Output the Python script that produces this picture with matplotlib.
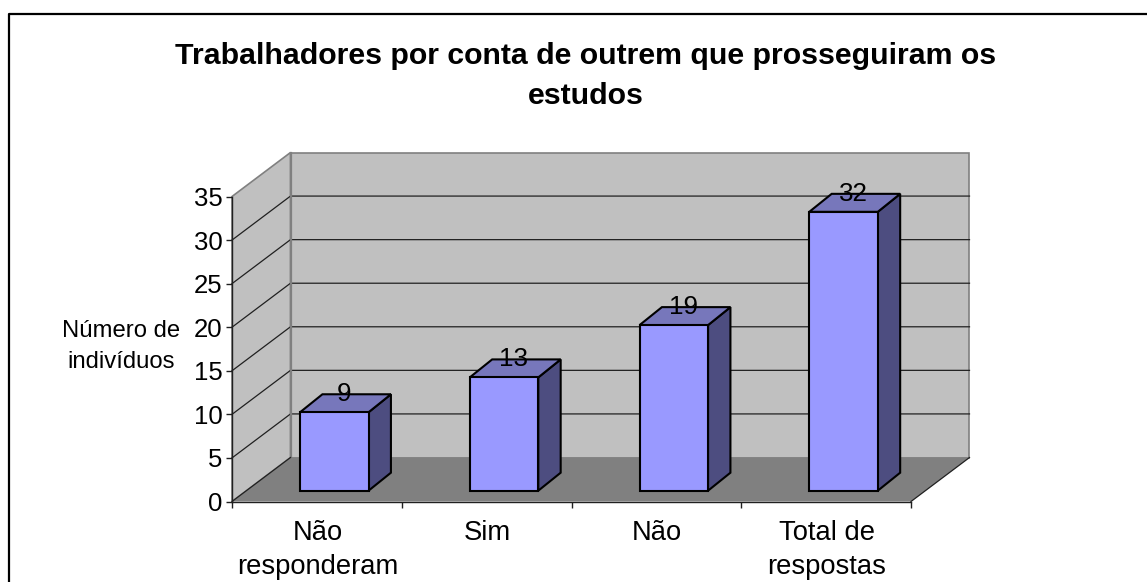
import matplotlib
matplotlib.use("Agg")
import matplotlib.pyplot as plt
from matplotlib.lines import Line2D
from matplotlib.patches import Polygon

plt.rcParams['font.family'] = ['Liberation Sans', 'DejaVu Sans']

categories = ['Não\nresponderam', 'Sim', 'Não', 'Total de\nrespostas']
values = [9, 13, 19, 32]
y_ticks = [0, 5, 10, 15, 20, 25, 30, 35]
title = 'Trabalhadores por conta de outrem que prosseguiram os\nestudos'
y_label = 'Número de\nindivíduos'

W, H = 1147, 582
LEFT, RIGHT, BOTTOM, TOP = 232, 911, 501.5, 196.5

fig = plt.figure(figsize=(W / 100, H / 100), dpi=100)
fig.patch.set_facecolor('white')

# outer frame of the chart, only left and top are inside the picture
fig.add_artist(Line2D([8.5 / W, 8.5 / W, 1], [0, 1 - 13.5 / H, 1 - 13.5 / H],
                      transform=fig.transFigure, color='black', lw=1.6))

ax = fig.add_axes([LEFT / W, 1 - BOTTOM / H, (RIGHT - LEFT) / W, (BOTTOM - TOP) / H])
ax.set_xlim(0, 4)
ax.set_ylim(0, 35)
ax.patch.set_visible(False)

# depth of the box and of a bar, in data units
px_x = 4 / (RIGHT - LEFT)
px_y = 35 / (BOTTOM - TOP)
DX, DY = 58.5 * px_x, 44 * px_y
BAR_DX, BAR_DY = 22.4 * px_x, 18 * px_y
SHIFT_X, SHIFT_Y = 17.4 * px_x, 10.8 * px_y
BAR_W = 68.5 * px_x


def poly(pts, fc, ec, lw, z):
    ax.add_patch(Polygon(pts, closed=True, fc=fc, ec=ec, lw=lw, zorder=z,
                         clip_on=False, joinstyle='miter'))


# walls and floor
poly([(0, 0), (DX, DY), (DX, 35 + DY), (0, 35)], '#c0c0c0', '#808080', 1.2, 1)
poly([(DX, DY), (4 + DX, DY), (4 + DX, 35 + DY), (DX, 35 + DY)], '#c0c0c0', '#808080', 1.2, 1)
poly([(0, 0), (4, 0), (4 + DX, DY), (DX, DY)], '#808080', 'none', 0, 2)

# grid lines on side and back wall
for t in y_ticks[1:-1]:
    ax.plot([0, DX, 4 + DX], [t, t + DY, t + DY], color='#202020', lw=0.9, zorder=3, clip_on=False)
ax.plot([DX, DX], [DY, 35 + DY], color='#808080', lw=1.6, zorder=3, clip_on=False)
ax.plot([0, DX], [0, DY], color='#202020', lw=0.9, zorder=3, clip_on=False)
ax.plot([4, 4 + DX], [0, DY], color='#202020', lw=0.9, zorder=3, clip_on=False)

# bars
for i, v in enumerate(values):
    x0 = i + 0.5 - BAR_W / 2 + SHIFT_X
    x1 = x0 + BAR_W
    y0 = SHIFT_Y
    y1 = v + SHIFT_Y
    poly([(x1, y0), (x1 + BAR_DX, y0 + BAR_DY), (x1 + BAR_DX, y1 + BAR_DY), (x1, y1)],
         '#4d4d80', 'black', 1.5, 5)
    poly([(x0, y1), (x1, y1), (x1 + BAR_DX, y1 + BAR_DY), (x0 + BAR_DX, y1 + BAR_DY)],
         '#7777bb', 'black', 1.5, 5)
    poly([(x0, y0), (x1, y0), (x1, y1), (x0, y1)], '#9999ff', 'black', 1.5, 6)
    ax.text((x0 + x1) / 2 + 9.5 * px_x, y1 + 18 * px_y, str(v), ha='center', va='center',
            fontsize=18.7, color='black', zorder=8)

for s in ['top', 'right']:
    ax.spines[s].set_visible(False)
for s in ['left', 'bottom']:
    ax.spines[s].set_color('#202020')
    ax.spines[s].set_linewidth(1.0)
    ax.spines[s].set_zorder(4)

ax.set_yticks(y_ticks)
ax.set_xticks([0, 1, 2, 3, 4])
ax.set_xticklabels([])
ax.tick_params(axis='y', length=4, width=1, color='#202020', labelsize=18.5, pad=3)
ax.tick_params(axis='x', length=4.3, width=1, color='#202020')

for i, c in enumerate(categories):
    ax.annotate(c, (i + 0.5, 0), xytext=(0.5, -13.4), xycoords='data', textcoords='offset points',
                ha='center', va='top', fontsize=19.7, linespacing=1.4, annotation_clip=False)

fig.text(121 / W, 1 - 346.5 / H, y_label, ha='center', va='center', fontsize=17.2, linespacing=1.52)
fig.text(585.5 / W, 1 - 76 / H, title, ha='center', va='center', fontsize=21.8,
         fontweight='bold', linespacing=1.5)

fig.savefig('out.png', dpi=100)
